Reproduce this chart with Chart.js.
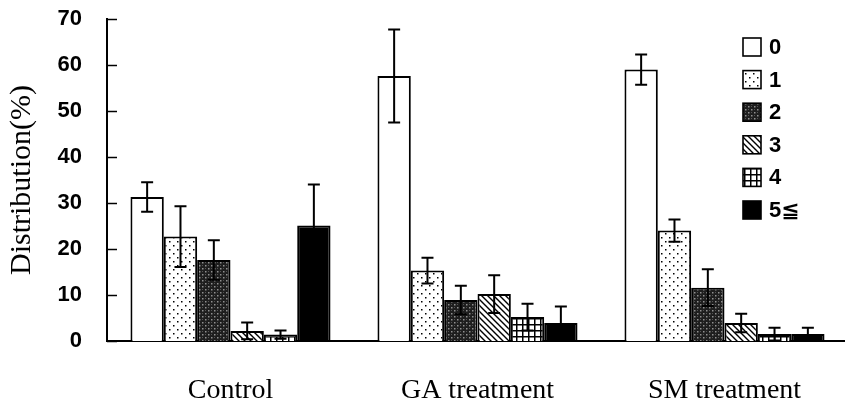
<!DOCTYPE html>
<html>
<head>
<meta charset="utf-8">
<script src="https://cdn.jsdelivr.net/npm/chart.js@4.4.1/dist/chart.umd.min.js"></script>
<style>
  html, body { margin: 0; padding: 0; background: #fff; width: 845px; height: 402px; overflow: hidden; }
  canvas { display: block; }
</style>
</head>
<body>
<canvas id="chart" width="850" height="402"></canvas>
<script>
/* Distribution (%) per group, one array per class. */
const groups = ['Control', 'GA treatment', 'SM treatment'];
const classLabels = ['0', '1', '2', '3', '4', '5≦'];
const yTicks = [0, 10, 20, 30, 40, 50, 60, 70];

const class0 = [31.3, 57.6, 59.0];
const class1 = [22.7, 15.3, 24.0];
const class2 = [17.6, 8.9, 11.6];
const class3 = [2.2, 10.2, 3.9];
const class4 = [1.4, 5.2, 1.5];
const class5 = [25.1, 3.9, 1.5];

const err0 = [3.2, 10.1, 3.3];
const err1 = [6.6, 2.8, 2.4];
const err2 = [4.3, 3.1, 4.0];
const err3 = [1.8, 4.1, 2.0];
const err4 = [0.9, 2.9, 1.4];
const err5 = [8.9, 3.6, 1.4];

const seriesValues = [class0, class1, class2, class3, class4, class5];
const seriesErrors = [err0, err1, err2, err3, err4, err5];

// fill patterns, built on small tiles
function makePattern(kind) {
  const tile = document.createElement('canvas');
  const size = kind === 'dots' ? 8 : 6;
  tile.width = size; tile.height = size;
  const g = tile.getContext('2d');
  g.fillStyle = '#fff';
  g.fillRect(0, 0, size, size);
  g.fillStyle = '#000';
  g.strokeStyle = '#000';
  if (kind === 'dots') {
    g.fillRect(1, 1, 1.5, 1.5);
    g.fillRect(5, 5, 1.5, 1.5);
  } else if (kind === 'lattice') {
    g.fillStyle = '#1e1e1e';
    g.fillRect(0, 0, size, size);
    g.fillStyle = '#909090';
    g.fillRect(1, 1, 1.5, 1.5);
    g.fillRect(4, 4, 1.5, 1.5);
    g.fillStyle = '#555';
    g.fillRect(4, 1, 1, 1);
    g.fillRect(1, 4, 1, 1);
  } else if (kind === 'diag') {
    g.lineWidth = 1.4;
    g.beginPath();
    g.moveTo(-1, -1); g.lineTo(size + 1, size + 1);
    g.moveTo(-1, size - 1); g.lineTo(1, size + 1);
    g.moveTo(size - 1, -1); g.lineTo(size + 1, 1);
    g.stroke();
  } else if (kind === 'grid') {
    g.fillRect(0, 0, size, 1.5);
    g.fillRect(0, 0, 1.5, size);
  }
  return g.createPattern(tile, 'repeat');
}

const ctx = document.getElementById('chart').getContext('2d');
const fills = [
  '#ffffff',
  makePattern('dots'),
  makePattern('lattice'),
  makePattern('diag'),
  makePattern('grid'),
  '#000000'
];

const errorBars = {
  id: 'errorBars',
  afterDatasetsDraw(chart) {
    const { ctx, scales: { y } } = chart;
    ctx.save();
    ctx.strokeStyle = '#000';
    ctx.lineWidth = 2;
    chart.data.datasets.forEach((ds, i) => {
      const meta = chart.getDatasetMeta(i);
      meta.data.forEach((bar, j) => {
        const v = ds.data[j];
        const e = seriesErrors[i][j];
        const top = y.getPixelForValue(v + e);
        const bottom = y.getPixelForValue(Math.max(v - e, 0));
        ctx.beginPath();
        ctx.moveTo(bar.x, top); ctx.lineTo(bar.x, bottom);
        ctx.moveTo(bar.x - 6, top); ctx.lineTo(bar.x + 6, top);
        ctx.moveTo(bar.x - 6, bottom); ctx.lineTo(bar.x + 6, bottom);
        ctx.stroke();
      });
    });
    ctx.restore();
  }
};

// tick marks point into the plot, as in the figure
const innerTicks = {
  id: 'innerTicks',
  afterDraw(chart) {
    const { ctx, chartArea, scales: { y } } = chart;
    ctx.save();
    ctx.strokeStyle = '#000';
    ctx.lineWidth = 1.5;
    y.ticks.forEach(t => {
      const py = Math.round(y.getPixelForValue(t.value)) + 0.5;
      ctx.beginPath();
      ctx.moveTo(chartArea.left, py);
      ctx.lineTo(chartArea.left + 10, py);
      ctx.stroke();
    });
    ctx.restore();
  }
};

const boxLegend = {
  id: 'boxLegend',
  afterDraw(chart) {
    const { ctx } = chart;
    const x0 = 743, y0 = 38, step = 32.6, box = 18;
    ctx.save();
    ctx.font = 'bold 22px "Liberation Sans", Arial, "DejaVu Sans", sans-serif';
    ctx.textBaseline = 'middle';
    chart.data.datasets.forEach((ds, i) => {
      const top = y0 + i * step;
      ctx.fillStyle = ds.backgroundColor;
      ctx.fillRect(x0, top, box, box);
      ctx.strokeStyle = '#000';
      ctx.lineWidth = 1.6;
      ctx.strokeRect(x0, top, box, box);
      ctx.fillStyle = '#000';
      ctx.fillText(ds.label, x0 + 26, top + box / 2 + 1);
    });
    ctx.restore();
  }
};

new Chart(ctx, {
  type: 'bar',
  data: {
    labels: groups,
    datasets: classLabels.map((label, i) => ({
      label,
      data: seriesValues[i],
      backgroundColor: fills[i],
      borderColor: '#000',
      borderWidth: 2,
      borderSkipped: 'bottom',
      categoryPercentage: 0.81,
      barPercentage: 1.0
    }))
  },
  options: {
    responsive: false,
    animation: false,
    devicePixelRatio: 1,
    layout: { padding: { top: 19, right: 2, left: 0, bottom: 0 } },
    plugins: { legend: { display: false }, tooltip: { enabled: false } },
    scales: {
      x: {
        grid: { display: false, drawTicks: false },
        border: { display: true, color: '#000', width: 2 },
        ticks: {
          color: '#000',
          padding: 33,
          font: { family: '"Liberation Serif", "Times New Roman", serif', size: 28 }
        },
        afterFit: s => { s.height = 61; }
      },
      y: {
        min: 0,
        max: 70,
        afterBuildTicks: s => { s.ticks = yTicks.map(v => ({ value: v })); },
        grid: { display: false, drawTicks: false },
        border: { display: true, color: '#000', width: 2 },
        ticks: {
          color: '#000',
          padding: 25,
          font: { family: '"Liberation Sans", Arial, sans-serif', size: 22, weight: 'bold' }
        },
        title: {
          display: true,
          text: 'Distribution(%)',
          color: '#000',
          padding: { top: 4, bottom: 0 },
          font: { family: '"Liberation Serif", "Times New Roman", serif', size: 30 }
        },
        afterFit: s => { s.width = 107; s.paddingTop = 0; s.paddingBottom = 0; }
      }
    }
  },
  plugins: [errorBars, innerTicks, boxLegend]
});
</script>
</body>
</html>
